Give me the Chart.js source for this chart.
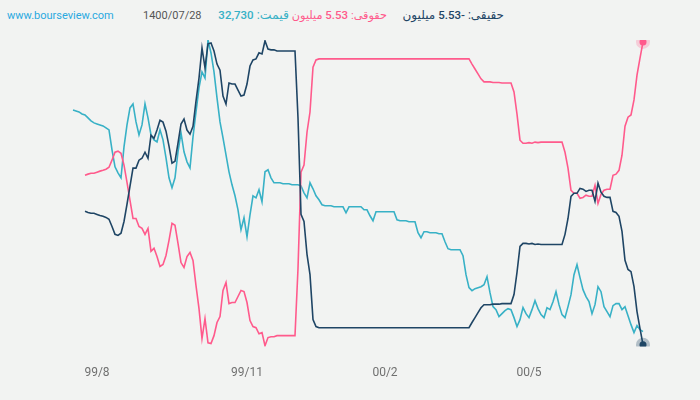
<!DOCTYPE html>
<html>
<head>
<meta charset="UTF-8">
<title>bourseview</title>
<script src="https://cdn.jsdelivr.net/npm/chart.js@4.4.1/dist/chart.umd.min.js"></script>
<style>
  body { margin:0; background:#f2f3f2; }
  #box { position:relative; width:700px; height:400px; background:#f2f3f2; font-family:Roboto, "DejaVu Sans", sans-serif; font-size:11px; }
  .hd { position:absolute; top:8px; line-height:16px; white-space:nowrap; }
  .fa { font-size:12px; top:7px; }
  .hd b { font-weight:500; font-size:11.5px; }
  canvas { position:absolute; left:0; top:0; }
</style>
</head>
<body>
<div id="box">
  <div class="hd" style="left:7px;color:#2aa9e0">www.bourseview.com</div>
  <div class="hd" id="date" style="left:143px;color:#555"></div>
  <div class="hd fa" id="hPrice" dir="rtl" style="right:411px;color:#38b1c6;font-size:12.5px"></div>
  <div class="hd fa" id="hLegal" dir="rtl" style="right:313px;color:#ff5a8c;font-size:11.3px"></div>
  <div class="hd fa" id="hReal" dir="rtl" style="right:196px;color:#1f4565"></div>
  <canvas id="grafica" width="700" height="400"></canvas>
</div>

<script>
// tarikh-e akhar va barchasb-haye mehvar-e x
var lastDate = '1400/07/28';
var tickLabels = ['99/8', '99/11', '00/2', '00/5'];
var tickIndex = [8, 58, 104, 152];

// gheymat (rial)
var price = [
  54930, 54830, 54730, 54530, 54430, 54130, 53830, 53630, 53530, 53430,
  53330, 53130, 52930, 50930, 49230, 48630, 48130, 51230, 53430, 55130,
  55530, 53730, 52430, 53430, 55530, 54130, 52430, 51930, 51730, 52930,
  51930, 50130, 48130, 47130, 48130, 50730, 52630, 50730, 49730, 49130,
  52230, 54730, 57130, 58730, 58130, 61930, 60630, 58730, 56130, 53730,
  52130, 50430, 48730, 47430, 46330, 44930, 42930, 44130, 42230, 44430,
  46330, 46130, 46930, 45730, 48730, 48930, 48130, 47630, 47630, 47630,
  47530, 47530, 47530, 47430, 47430, 47430, 47330, 46630, 46130, 47630,
  47030, 46330, 45930, 45430, 45330, 45330, 45330, 45230, 45230, 45230,
  45230, 44630, 45230, 45230, 45230, 45230, 45230, 44930, 44930, 44330,
  43830, 44730, 44730, 44730, 44730, 44730, 44730, 44730, 43930, 43830,
  43830, 43830, 43730, 43730, 43730, 42630, 42130, 42730, 42730, 42630,
  42630, 42630, 42530, 42530, 41730, 41030, 40930, 40930, 40930, 40930,
  40330, 38430, 37130, 36830, 37030, 37130, 37230, 37430, 38230, 36630,
  35230, 34930, 34230, 34530, 34830, 35030, 34930, 34130, 33230, 33930,
  35130, 34530, 34130, 34930, 35830, 35030, 34430, 34130, 35130, 34930,
  35730, 36730, 35430, 34430, 34130, 35230, 36430, 38430, 39430, 38130,
  36930, 36230, 35730, 34530, 35430, 37230, 36730, 35230, 34730, 34230,
  35330, 35530, 35530, 34930, 35230, 34330, 33430, 32630, 33330, 32930,
  32730
];

// khalis-e hoghoghi (milyun)
var legal = [
  null, null, null, null, 0.66, 0.70, 0.73, 0.73, 0.77, 0.81,
  0.84, 0.88, 0.95, 1.21, 1.50, 1.54, 1.46, 1.03, 0.40, -0.26,
  -0.92, -0.92, -1.21, -1.28, -1.50, -1.28, -2.12, -2.01, -2.31, -2.67,
  -2.60, -2.27, -1.72, -1.10, -1.17, -1.83, -2.53, -2.71, -2.31, -2.16,
  -2.45, -3.37, -4.21, -5.31, -4.58, -5.46, -5.49, -5.20, -4.72, -4.50,
  -3.55, -3.26, -4.03, -3.99, -3.99, -3.77, -3.55, -3.59, -3.99, -4.65,
  -4.87, -4.91, -5.13, -5.09, -5.57, -5.27, -5.24, -5.24, -5.20, -5.20,
  -5.20, -5.20, -5.20, -5.20, -5.20, -2.75, 0.77, 1.03, 2.23, 2.97,
  4.61, 4.87, 4.91, 4.91, 4.91, 4.91, 4.91, 4.91, 4.91, 4.91,
  4.91, 4.91, 4.91, 4.91, 4.91, 4.91, 4.91, 4.91, 4.91, 4.91,
  4.91, 4.91, 4.91, 4.91, 4.91, 4.91, 4.91, 4.91, 4.91, 4.91,
  4.91, 4.91, 4.91, 4.91, 4.91, 4.91, 4.91, 4.91, 4.91, 4.91,
  4.91, 4.91, 4.91, 4.91, 4.91, 4.91, 4.91, 4.91, 4.91, 4.91,
  4.91, 4.91, 4.91, 4.72, 4.54, 4.36, 4.18, 4.07, 4.07, 4.07,
  4.05, 4.05, 4.05, 4.03, 4.03, 4.03, 4.03, 3.70, 2.89, 1.94,
  1.83, 1.83, 1.85, 1.83, 1.87, 1.85, 1.87, 1.87, 1.87, 1.87,
  1.87, 1.87, 1.87, 1.87, 1.50, 0.92, 0.11, 0.00, 0.00, -0.18,
  -0.15, -0.07, -0.11, -0.11, 0.29, -0.37, -0.04, 0.11, 0.15, 0.15,
  0.66, 0.70, 0.84, 1.39, 2.45, 2.78, 2.86, 3.41, 4.32, 4.94,
  5.53
];

// khalis-e haghighi (milyun)
var real = [
  null, null, null, null, -0.66, -0.70, -0.73, -0.73, -0.77, -0.81,
  -0.84, -0.88, -0.95, -1.21, -1.50, -1.54, -1.46, -1.03, -0.40, 0.26,
  0.92, 0.92, 1.21, 1.28, 1.50, 1.28, 2.12, 2.01, 2.31, 2.67,
  2.60, 2.27, 1.72, 1.10, 1.17, 1.83, 2.53, 2.71, 2.31, 2.16,
  2.45, 3.37, 4.21, 5.31, 4.58, 5.46, 5.49, 5.20, 4.72, 4.50,
  3.55, 3.26, 4.03, 3.99, 3.99, 3.77, 3.55, 3.59, 3.99, 4.65,
  4.87, 4.91, 5.13, 5.09, 5.57, 5.27, 5.24, 5.24, 5.20, 5.20,
  5.20, 5.20, 5.20, 5.20, 5.20, 2.75, -0.77, -1.03, -2.23, -2.97,
  -4.61, -4.87, -4.91, -4.91, -4.91, -4.91, -4.91, -4.91, -4.91, -4.91,
  -4.91, -4.91, -4.91, -4.91, -4.91, -4.91, -4.91, -4.91, -4.91, -4.91,
  -4.91, -4.91, -4.91, -4.91, -4.91, -4.91, -4.91, -4.91, -4.91, -4.91,
  -4.91, -4.91, -4.91, -4.91, -4.91, -4.91, -4.91, -4.91, -4.91, -4.91,
  -4.91, -4.91, -4.91, -4.91, -4.91, -4.91, -4.91, -4.91, -4.91, -4.91,
  -4.91, -4.91, -4.91, -4.72, -4.54, -4.36, -4.18, -4.07, -4.07, -4.07,
  -4.05, -4.05, -4.05, -4.03, -4.03, -4.03, -4.03, -3.70, -2.89, -1.94,
  -1.83, -1.83, -1.85, -1.83, -1.87, -1.85, -1.87, -1.87, -1.87, -1.87,
  -1.87, -1.87, -1.87, -1.87, -1.50, -0.92, -0.11, 0.00, 0.00, 0.18,
  0.15, 0.07, 0.11, 0.11, -0.29, 0.37, 0.04, -0.11, -0.15, -0.15,
  -0.66, -0.70, -0.84, -1.39, -2.45, -2.78, -2.86, -3.41, -4.32, -4.94,
  -5.53
];

var days = price.map(function (p, i) { return i; });
var last = price.length - 1;

document.getElementById('date').textContent = lastDate;
document.getElementById('hPrice').innerHTML = 'قیمت: <b>' + price[last].toLocaleString('en-US') + '</b>';
document.getElementById('hLegal').innerHTML = 'حقوقی: <b>' + legal[last].toFixed(2) + '</b> میلیون';
document.getElementById('hReal').innerHTML = 'حقیقی: <b>' + real[last].toFixed(2) + '</b> میلیون';

function lastDot(r) {
  return function (ctx) { return ctx.dataIndex === last ? r : 0; };
}

var miCanvas = document.getElementById('grafica').getContext('2d');
var chart = new Chart(miCanvas, {
  type: 'line',
  data: {
    labels: days,
    datasets: [
      {
        label: 'حقیقی',
        data: real,
        yAxisID: 'yFlow',
        borderColor: '#1f4565',
        borderWidth: 1.6,
        pointRadius: lastDot(3.5),
        pointBorderWidth: 7,
        pointBackgroundColor: '#1f4565',
        pointBorderColor: 'rgba(31,69,101,0.3)'
      },
      {
        label: 'حقوقی',
        data: legal,
        yAxisID: 'yFlow',
        borderColor: '#ff5a8c',
        borderWidth: 1.6,
        pointRadius: lastDot(3.5),
        pointBorderWidth: 7,
        pointBackgroundColor: '#ff5a8c',
        pointBorderColor: 'rgba(255,90,140,0.25)'
      },
      {
        label: 'قیمت',
        data: price,
        yAxisID: 'yPrice',
        borderColor: '#38b1c6',
        borderWidth: 1.6,
        pointRadius: 0
      }
    ]
  },
  options: {
    responsive: false,
    animation: false,
    layout: { padding: { left: 73, right: 57, top: 40, bottom: 0 } },
    plugins: { legend: { display: false }, tooltip: { enabled: false } },
    scales: {
      x: {
        grid: { display: false, drawTicks: false },
        border: { display: false },
        ticks: {
          autoSkip: false,
          maxRotation: 0,
          padding: 19.5,
          color: '#707070',
          font: { family: 'Roboto', size: 12 },
          callback: function (value, index) {
            var k = tickIndex.indexOf(index);
            return k >= 0 ? tickLabels[k] : '';
          }
        }
      },
      yPrice: { display: false, min: 31230, max: 61930 },
      yFlow: { display: false, min: -5.6, max: 5.6 }
    }
  }
});
</script>
</body>
</html>
